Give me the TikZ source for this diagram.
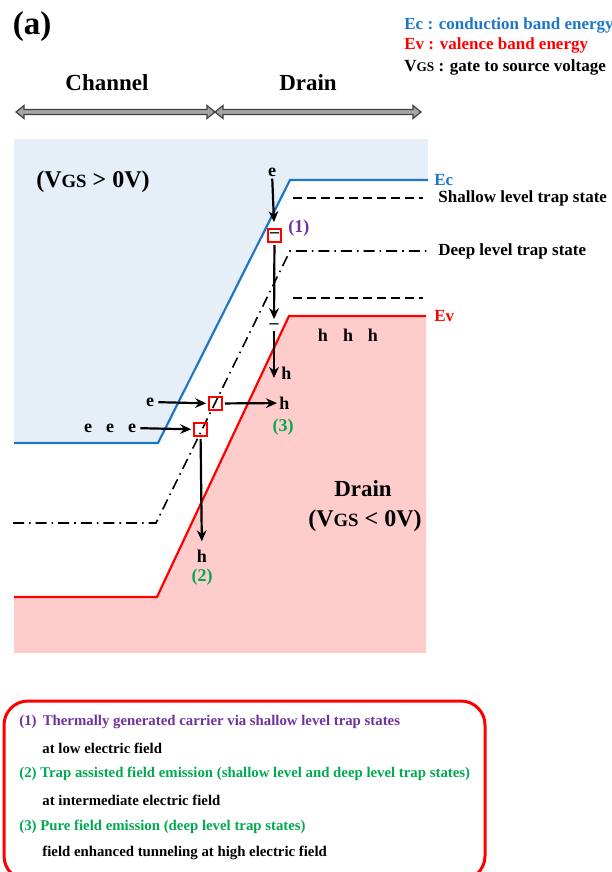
\documentclass[tikz,border=0pt]{standalone}
\usepackage{fontspec}
\setmainfont{Liberation Serif}
\usepackage{xcolor}
\usetikzlibrary{arrows.meta, positioning}
\definecolor{ecblue}{RGB}{30,118,200}
\definecolor{evred}{RGB}{255,0,0}
\definecolor{trappurple}{RGB}{112,48,160}
\definecolor{fieldgreen}{RGB}{0,170,80}
\definecolor{chanfill}{RGB}{230,239,248}
\definecolor{drainfill}{RGB}{255,204,204}
\newcommand{\Vgs}{V\scalebox{0.78}{GS}}

\begin{document}
\begin{tikzpicture}[
    x=0.5pt, y=-0.5pt,
    lbl/.style={font=\fontsize{9}{10}\selectfont\bfseries, inner sep=1pt},
    big/.style={font=\fontsize{11.5}{13}\selectfont\bfseries, inner sep=0pt},
    legend/.style={font=\fontsize{8.5}{10}\selectfont\bfseries, anchor=west, inner sep=0pt},
    note/.style={font=\fontsize{7.4}{8}\selectfont\bfseries, anchor=west, inner sep=0pt},
    trap/.style={draw=evred, line width=0.8pt, minimum size=6.5pt, inner sep=0pt,
                 font=\fontsize{9}{9}\selectfont\bfseries},
    arrow/.style={-{Stealth[length=5.5pt, width=4.8pt]}, line width=1.1pt},
    band/.style={line width=1.1pt},
    level/.style={line width=0.8pt, dash pattern=on 4.5pt off 2.5pt},
    deep/.style={line width=0.8pt, dash pattern=on 5.5pt off 2.5pt on 0.8pt off 2.5pt},
    region/.style={draw=black!75, fill=black!35, line width=0.6pt},
]
\useasboundingbox (0,0) rectangle (611,872);

% channel / drain regions
\fill[chanfill] (14,139) -- (428,139) -- (428,180) -- (290,180) -- (158,443) -- (14,443) -- cycle;
\fill[drainfill] (14,597) -- (157,597) -- (289,316) -- (426,316) -- (426,653) -- (14,653) -- cycle;

\draw[band, ecblue] (14,443) -- (158,443) -- (290,180) -- (428,180);
\draw[band, evred] (14,597) -- (157,597) -- (289,316) -- (426,316);
\draw[deep] (13,523) -- (156,523) -- (290,251) -- (430,251);
\draw[level] (293,198) -- (423,198);
\draw[level] (293,298) -- (423,298);

\draw[region] (16,112) -- (24,105.5) -- (24,109.5) -- (207,109.5) -- (207,105.5) -- (215,112)
  -- (207,118.5) -- (207,114.5) -- (24,114.5) -- (24,118.5) -- cycle;
\draw[region] (215,112) -- (223,105.5) -- (223,109.5) -- (413,109.5) -- (413,105.5) -- (421,112)
  -- (413,118.5) -- (413,114.5) -- (223,114.5) -- (223,118.5) -- cycle;

\node[font=\fontsize{16.5}{18}\selectfont\bfseries, inner sep=0pt] (tag) at (32,27) {(a)};
\node[big] (channel) at (107,83) {Channel};
\node[big] (drain) at (308,83) {Drain};

\node[legend, ecblue] (legec) at (404,25) {Ec : conduction band energy};
\node[legend, evred] (legev) at (404,45) {Ev : valence band energy};
\node[legend] (legvgs) at (404,67) {\Vgs\ : gate to source voltage};

\node[big, font=\fontsize{12}{14}\selectfont\bfseries] (vpos) at (93,182) {(\Vgs\ > 0V)};
\node[big, font=\fontsize{11.5}{14}\selectfont\bfseries] (dlbl) at (363,489) {Drain};
\node[big, font=\fontsize{12}{14}\selectfont\bfseries] (vneg) at (365,521) {(\Vgs\ < 0V)};

\node[legend, ecblue] (eclbl) at (434,180) {Ec};
\node[legend] (shallow) at (438,198) {Shallow level trap state};
\node[legend] (deeplbl) at (438,251) {Deep level trap state};
\node[legend, evred] (evlbl) at (434,316) {Ev};

% traps
\node[trap] (trapa) at (274.5,235.5) {\raisebox{0.5pt}{--}};
\node[trap] (trapc) at (215.5,403.5) {};
\node[trap] (trapb) at (200.5,429.5) {};

\node[lbl] (ea) at (272,172) {e};
\node[lbl, trappurple, anchor=west] (one) at (286,228) {(1)};
\node[lbl, inner sep=0pt] (minus) at (274,326) {--};
\coordinate (hend) at (274,378);
\node[lbl, anchor=west] (hb) at (279,373) {h};

\node[lbl] (ec2) at (150,402) {e};
\node[lbl, anchor=west] (hc) at (277,403) {h};
\node[lbl, fieldgreen] (three) at (283,427) {(3)};

\node[lbl] (el1) at (88,428) {e};
\node[lbl] (el2) at (110,428) {e};
\node[lbl] (el3) at (132,428) {e};
\node[lbl] (hd) at (202,556) {h};
\node[lbl, fieldgreen] (two) at (202,577) {(2)};

\node[lbl] (hv1) at (323,335) {h};
\node[lbl] (hv2) at (348,335) {h};
\node[lbl] (hv3) at (373,335) {h};

\draw[arrow, shorten >=3pt] (ea) -- (trapa);
\draw[arrow, shorten <=1pt, shorten >=2pt] (trapa) -- (minus);
\draw[arrow, shorten <=1pt] (minus) -- (hend);
\draw[arrow, shorten <=1pt, shorten >=1pt] (ec2) -- (trapc);
\draw[arrow, shorten <=1pt] (trapc) -- (hc);
\draw[arrow, shorten <=1pt, shorten >=1pt] (el3) -- (trapb);
\draw[arrow, shorten <=1pt, shorten >=3pt] (trapb) -- (hd);

% mechanisms
\draw[evred, line width=1.5pt, rounded corners=12pt] (4,701) rectangle (485,880);
\node[note, trappurple] (m1) at (19,722) {(1)\, Thermally generated carrier via shallow level trap states};
\node[note] (m1b) at (42,748) {at low electric field};
\node[note, fieldgreen] (m2) at (19,774) {(2) Trap assisted field emission (shallow level and deep level trap states)};
\node[note] (m2b) at (42,800) {at intermediate electric field};
\node[note, fieldgreen] (m3) at (19,827) {(3) Pure field emission (deep level trap states)};
\node[note] (m3b) at (42,853) {field enhanced tunneling at high electric field};
\end{tikzpicture}
\end{document}
